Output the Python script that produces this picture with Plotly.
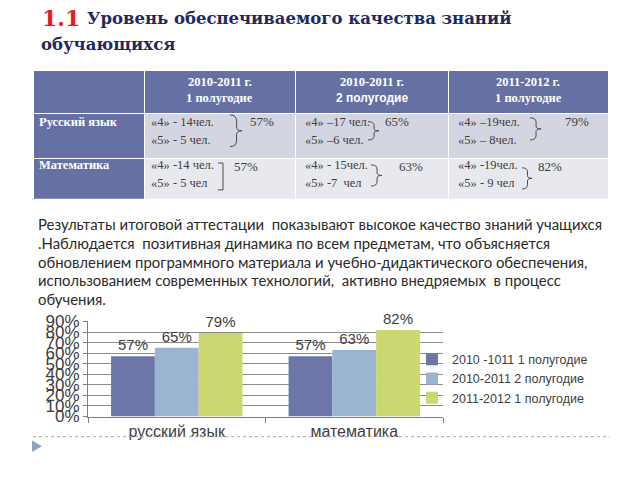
import plotly.graph_objects as go

W, H = 640, 480
OFF = 8  # the page body margin shifts the figure by 8px; compensate here

# --- table data ---
subjects = ["Русский язык", "Математика"]
periods = ["2010-2011 г.", "2010-2011 г.", "2011-2012 г."]
halves = ["1 полугодие", "2 полугодие", "1 полугодие"]
grade4 = [["«4» - 14чел.", "«4» –17 чел.", "«4» –19чел."],
          ["«4» -14 чел.", "«4» - 15чел.", "«4» -19чел."]]
grade5 = [["«5» - 5 чел.", "«5» –6 чел.", "«5» – 8чел."],
          ["«5» - 5 чел", "«5» -7  чел", "«5» - 9 чел"]]
quality_rus = [57, 65, 79]
quality_math = [57, 63, 82]

# --- chart data ---
chart_categories = ["русский язык", "математика"]
legend_names = ["2010 -1011 1 полугодие", "2010-2011 2 полугодие", "2011-2012 1 полугодие"]

paragraph_lines = [
    "Результаты итоговой аттестации  показывают высокое качество знаний учащихся",
    ".Наблюдается  позитивная динамика по всем предметам, что объясняется",
    "обновлением программного материала и учебно-дидактического обеспечения,",
    "использованием современных технологий,  активно внедряемых  в процесс",
    "обучения.",
]

HEAD = "#6670a3"
ROW1 = "#d3d6e1"
ROW2 = "#e8e9ef"
BAR_COLORS = ["#6c77a8", "#9bb4d2", "#cdd76f"]
SERIF = "Liberation Serif"
TEXT = "#3c3c3c"

# table geometry (pixels)
TX0, TY0 = 33, 64
COL_W = [111, 151, 153, 160]
HEAD_H, ROW_H = 43, 45


def px(x):
    return (x - OFF) / W


def py(y):
    return 1 - (y - OFF) / H


col_left = [TX0 + sum(COL_W[:i]) for i in range(len(COL_W))]

fig = go.Figure()

# table grid and fills
fig.add_trace(go.Table(
    domain=dict(x=[px(TX0), px(TX0 + sum(COL_W))], y=[py(TY0 + HEAD_H + 2 * ROW_H + 1), py(TY0)]),
    columnwidth=COL_W,
    header=dict(values=[""] * 4, fill_color=HEAD, line=dict(color="white", width=1), height=HEAD_H),
    cells=dict(values=[[""] * 2] * 4,
               fill_color=[[HEAD, HEAD], [ROW1, ROW2], [ROW1, ROW2], [ROW1, ROW2]],
               line=dict(color="white", width=1), height=ROW_H),
))


def note(x, y, text, size=12.5, color=TEXT, family=SERIF, anchor="left", **kw):
    fig.add_annotation(x=px(x), y=py(y), xref="paper", yref="paper", text=text,
                       showarrow=False, xanchor=anchor, yanchor="middle",
                       font=dict(family=family, size=size, color=color, **kw))


# header text
for j, (p, h) in enumerate(zip(periods, halves)):
    cx = col_left[j + 1] + COL_W[j + 1] / 2
    note(cx, TY0 + 12, f"<b>{p}</b>", color="white", anchor="center")
    if h.startswith("2"):
        note(cx, TY0 + 28, f"<b>{h}</b>", size=12, color="white", family="Liberation Sans",
             anchor="center")
    else:
        note(cx, TY0 + 28, f"<b>{h}</b>", color="white", anchor="center")

# body text
for r in range(2):
    top = TY0 + HEAD_H + r * ROW_H
    note(col_left[0] + 4, top + 10, f"<b>{subjects[r]}</b>", color="white")
    for j in range(3):
        x = col_left[j + 1] + (5 if j == 0 else 8)
        note(x, top + 10, grade4[r][j])
        note(x, top + 29, grade5[r][j])

# brackets and percentages in the table cells (pixel geometry)
# (x, y0, y1, width, kind, pct_x, pct_y)
deco = [
    [(230, 110, 143, 12, "brace", 248, 117), (368, 117, 136, 11, "brace", 383, 117),
     (530, 113, 136, 11, "brace", 563, 117)],
    [(218, 160, 188, 5, "square", 232, 164), (371, 162, 184, 11, "brace", 397, 164),
     (522, 165, 187, 10, "brace", 536, 164)],
]
quality = [quality_rus, quality_math]


def brace_path(x, y0, y1, w):
    ym = (y0 + y1) / 2
    h = y1 - y0
    xm = x + w * 0.55
    pts = [
        f"M {px(x)},{py(y0)}",
        f"Q {px(xm)},{py(y0)} {px(xm)},{py(y0 + h * 0.2)}",
        f"L {px(xm)},{py(ym - h * 0.12)}",
        f"Q {px(xm)},{py(ym)} {px(x + w)},{py(ym)}",
        f"Q {px(xm)},{py(ym)} {px(xm)},{py(ym + h * 0.12)}",
        f"L {px(xm)},{py(y1 - h * 0.2)}",
        f"Q {px(xm)},{py(y1)} {px(x)},{py(y1)}",
    ]
    return " ".join(pts)


def square_path(x, y0, y1, w):
    return (f"M {px(x)},{py(y0)} L {px(x + w)},{py(y0)} "
            f"L {px(x + w)},{py(y1)} L {px(x)},{py(y1)}")


for r in range(2):
    for j in range(3):
        x, y0, y1, w, kind, tx, ty = deco[r][j]
        path = brace_path(x, y0, y1, w) if kind == "brace" else square_path(x, y0, y1, w)
        fig.add_shape(type="path", path=path, xref="paper", yref="paper",
                      line=dict(color="#4a4a4a", width=1))
        note(tx, ty, f"{quality[r][j]}%", size=13)

# bar chart
for i, name in enumerate(legend_names):
    vals = [quality_rus[i] / 100, quality_math[i] / 100]
    fig.add_trace(go.Bar(
        x=chart_categories, y=vals, name=name,
        marker=dict(color=BAR_COLORS[i], line=dict(width=0)),
        text=[f"{v:.0%}" for v in vals], textposition="outside", cliponaxis=False,
        textfont=dict(family="Liberation Sans", size=15, color="#404040"),
    ))

fig.update_layout(
    width=W, height=H,
    margin=dict(l=0, r=0, t=0, b=0),
    paper_bgcolor="white", plot_bgcolor="white",
    barmode="group", bargap=0.26, bargroupgap=0,
    showlegend=True,
    legend=dict(x=px(412), y=py(349), xanchor="left", yanchor="top",
                bgcolor="rgba(0,0,0,0)", itemwidth=30,
                font=dict(family="Liberation Sans", size=12.5, color="#404040")),
    xaxis=dict(domain=[px(88), px(443)], showline=True, linecolor="#7f7f7f",
               ticks="outside", tickson="boundaries", ticklen=5, tickcolor="#7f7f7f",
               tickfont=dict(family="Liberation Sans", size=16, color="#404040")),
    yaxis=dict(domain=[py(424), py(325)], range=[0, 0.9], dtick=0.1,
               tickformat=".0%", showline=True, linecolor="#7f7f7f",
               ticks="outside", ticklen=4, tickcolor="#7f7f7f",
               showgrid=True, gridcolor="#8c8c8c", gridwidth=1, zeroline=False,
               tickfont=dict(family="Liberation Sans", size=17, color="#404040")),
)

# title
note(40, 9, "1.1", size=22, color="#e3211c", family="DejaVu Serif", weight="bold")
note(85, 10, "Уровень обеспечиваемого качества знаний", size=16.5, color="#1e2a5e",
     family="DejaVu Serif", weight="bold")
note(39, 37, "обучающихся", size=16.5, color="#1e2a5e", family="DejaVu Serif", weight="bold")

# paragraph
for i, line in enumerate(paragraph_lines):
    note(36, 224 + i * 19.3, line, size=14.9, color="#2a2a2a", family="Lato")

# footer: dotted rule and bullet triangle
fig.add_shape(type="line", xref="paper", yref="paper",
              x0=px(33), x1=px(610), y0=py(445), y1=py(445),
              line=dict(color="#a8a8a8", width=1, dash="dot"))
fig.add_shape(type="path", xref="paper", yref="paper",
              path=f"M {px(32)},{py(449)} L {px(42)},{py(455)} L {px(32)},{py(461)} Z",
              fillcolor="#8fa4c0", line=dict(width=0))

fig.write_html("out.html")
